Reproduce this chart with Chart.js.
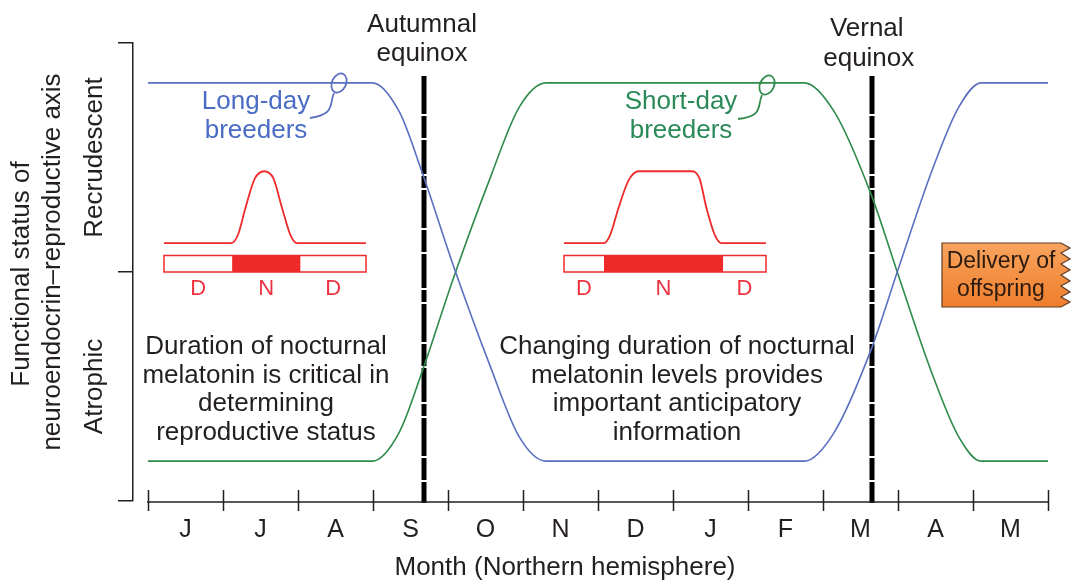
<!DOCTYPE html>
<html><head><meta charset="utf-8">
<script src="https://cdn.jsdelivr.net/npm/chart.js@4.4.1/dist/chart.umd.min.js"></script>
<style>html,body{margin:0;padding:0;background:#fff}#wrap{width:1073px;height:583px}</style>
</head><body><div id="wrap"><canvas id="c" width="1073" height="583"></canvas></div>
<script>
// ---------- data ----------
const months = ['J','J','A','S','O','N','D','J','F','M','A','M'];
const monthBoundaries = [0,1,2,3,4,5,6,7,8,9,10,11,12];
const curveMonths   = [0, 2.99, 3.35, 3.65, 4.08, 4.55, 4.95, 5.31, 8.75, 9.15, 9.64, 9.99, 10.45, 10.81, 11.11, 12];
const longDayStatus = [0.913, 0.913, 0.85, 0.72, 0.51, 0.30, 0.14, 0.087, 0.087, 0.15, 0.33, 0.50, 0.72, 0.86, 0.913, 0.913];
const shortDayStatus= [0.087, 0.087, 0.15, 0.28, 0.49, 0.70, 0.86, 0.913, 0.913, 0.85, 0.67, 0.50, 0.28, 0.14, 0.087, 0.087];
const statusTicks = [0, 0.5, 1];
const statusLabels = ['Atrophic', 'Recrudescent'];
const equinoxMonths = [3.68, 9.65];
const equinoxLabels = [['Autumnal','equinox'], ['Vernal','equinox']];
// melatonin profiles (hour of the 24 h day, relative level)
const melHoursLong  = [0, 8, 8.8, 9.7, 10.8, 11.9, 13.0, 14.0, 15.0, 15.8, 24];
const melLevelLong  = [0, 0, 0.12, 0.5, 0.9, 1, 0.9, 0.5, 0.12, 0, 0];
const nightLong = [8.1, 16.2];
const melHoursShort = [0, 4.75, 5.5, 6.5, 7.7, 8.9, 12, 15.1, 16.1, 16.9, 17.9, 18.7, 24];
const melLevelShort = [0, 0, 0.12, 0.5, 0.88, 1, 1, 1, 0.9, 0.5, 0.12, 0, 0];
const nightShort = [4.75, 18.9];
const xTitle = 'Month (Northern hemisphere)';
const yTitle = ['Functional status of', 'neuroendocrin\u2013reproductive axis'];

// ---------- styles / placement ----------
const FONT = '"Liberation Sans", Arial, Helvetica, sans-serif';
const INK = '#231f20';
const BLUE = '#5a6fc0';
const GREEN = '#2f8a4c';
const RED = '#ee2a2a';
const FS = 26;
Chart.defaults.font.family = FONT;
const insetLeft  = {x0: 0.213, x1: 2.907};
const insetRight = {x0: 5.547, x1: 8.24};
const insetBase = 0.563, insetAmp = 0.157;

function insetPoints(inset, hours, levels){
  return hours.map((h,i)=>({x: inset.x0 + h/24*(inset.x1-inset.x0), y: insetBase + levels[i]*insetAmp}));
}
const lineDS = (data, color, w) => ({data, borderColor: color, borderWidth: w, pointRadius: 0, fill: false, cubicInterpolationMode: 'monotone'});

const deco = {
  id: 'deco',
  beforeDatasetsDraw(chart){
    const {ctx, scales:{x, y}} = chart;
    ctx.save();
    ctx.strokeStyle = '#000'; ctx.lineWidth = 5;
    ctx.setLineDash([38,2,22,2,34,2,12,2]);
    equinoxMonths.forEach(m=>{
      const px = Math.round(x.getPixelForValue(m));
      ctx.beginPath(); ctx.moveTo(px, 76); ctx.lineTo(px, y.bottom + 2); ctx.stroke();
    });
    ctx.restore();
  },
  afterDatasetsDraw(chart){
    const {ctx, scales:{x, y}} = chart;
    ctx.save();
    // x axis line and tick marks
    ctx.strokeStyle = INK; ctx.lineWidth = 1.5;
    const ay = y.bottom + 1;
    ctx.beginPath();
    ctx.moveTo(x.getPixelForValue(0) - 1, ay); ctx.lineTo(x.getPixelForValue(12) + 1, ay);
    monthBoundaries.forEach(m=>{ const px = Math.round(x.getPixelForValue(m)) + 0.5; ctx.moveTo(px, ay - 12); ctx.lineTo(px, ay + 9); });
    ctx.stroke();

    const text = (s, tx, ty, color, size, rot) => {
      ctx.save(); ctx.translate(tx, ty); if (rot) ctx.rotate(rot);
      ctx.fillStyle = color; ctx.font = size + 'px ' + FONT; ctx.textAlign = 'center'; ctx.textBaseline = 'middle';
      ctx.fillText(s, 0, 0); ctx.restore();
    };
    // axis titles
    text(xTitle, 565, 568, INK, FS);
    text(yTitle[0], 22, 274, INK, FS, -Math.PI/2);
    text(yTitle[1], 53, 262, INK, FS, -Math.PI/2);
    // status labels
    text(statusLabels[1], 95, (y.getPixelForValue(1) + y.getPixelForValue(0.5))/2, INK, FS, -Math.PI/2);
    text(statusLabels[0], 95, (y.getPixelForValue(0.5) + y.getPixelForValue(0))/2, INK, FS, -Math.PI/2);

    // equinox labels
    const eqY = [[25,54],[29,59]];
    equinoxMonths.forEach((m,i)=>{
      const px = x.getPixelForValue(m);
      text(equinoxLabels[i][0], px - 2 + (i?-3:0), eqY[i][0], INK, FS);
      text(equinoxLabels[i][1], px - 2 + (i?-1:0), eqY[i][1], INK, FS);
    });

    // inset bars
    [[insetLeft, nightLong],[insetRight, nightShort]].forEach(([ins, night])=>{
      const l = x.getPixelForValue(ins.x0), r = x.getPixelForValue(ins.x1);
      const top = 255.5, h = 16.5;
      const nl = x.getPixelForValue(ins.x0 + night[0]/24*(ins.x1-ins.x0));
      const nr = x.getPixelForValue(ins.x0 + night[1]/24*(ins.x1-ins.x0));
      ctx.fillStyle = RED; ctx.fillRect(nl, top, nr - nl, h);
      ctx.strokeStyle = RED; ctx.lineWidth = 1.5; ctx.strokeRect(l, top, r - l, h);
      const dc = '#ee3340';
      text('D', (l + nl)/2, 289, dc, 22);
      text('N', (nl + nr)/2, 289, dc, 22);
      text('D', (nr + r)/2, 289, dc, 22);
    });

    // series labels
    text('Long-day', 256, 102, '#4a6cc4', FS);
    text('breeders', 256, 131, '#4a6cc4', FS);
    text('Short-day', 681, 102, '#2b8a58', FS);
    text('breeders', 681, 131, '#2b8a58', FS);

    // loops
    const loop = (cx, cy, color, pts) => {
      ctx.strokeStyle = color; ctx.lineWidth = 1.8;
      ctx.beginPath(); ctx.ellipse(cx, cy, 7, 10, 0.45, 0, Math.PI*2); ctx.stroke();
      ctx.beginPath(); ctx.moveTo(pts[0], pts[1]);
      ctx.bezierCurveTo(pts[2], pts[3], pts[4], pts[5], pts[6], pts[7]); ctx.stroke();
    };
    loop(339, 83, BLUE, [334, 93, 329, 104, 336, 114, 310, 118]);
    loop(767, 85, GREEN, [762, 95, 757, 106, 764, 116, 738, 119]);

    // paragraphs
    const para1 = ['Duration of nocturnal','melatonin is critical in','determining','reproductive status'];
    const para2 = ['Changing duration of nocturnal','melatonin levels provides','important anticipatory','information'];
    const ly = [347, 375.5, 404, 432.5];
    para1.forEach((s,i)=>text(s, 266, ly[i], INK, FS));
    para2.forEach((s,i)=>text(s, 677, ly[i], INK, FS));

    // delivery box
    ctx.beginPath();
    ctx.moveTo(942, 243); ctx.lineTo(1061, 243);
    const zz = [[1070,248],[1061,253],[1070,259],[1061,264],[1070,270],[1061,275],[1070,281],[1061,286],[1070,292],[1061,297],[1070,302],[1061,307]];
    zz.forEach(p=>ctx.lineTo(p[0], p[1]));
    ctx.lineTo(942, 307); ctx.closePath();
    const g = ctx.createLinearGradient(0, 243, 0, 307);
    g.addColorStop(0, '#f8a45e'); g.addColorStop(1, '#ef7e2c');
    ctx.fillStyle = g; ctx.fill();
    ctx.strokeStyle = '#5e3a20'; ctx.lineWidth = 1.2; ctx.stroke();
    text('Delivery of', 1001, 262, '#2a1a10', 23);
    text('offspring', 1001, 290, '#2a1a10', 23);
    ctx.restore();
  }
};

new Chart(document.getElementById('c'), {
  type: 'line',
  data: {
    datasets: [
      lineDS(curveMonths.map((m,i)=>({x:m, y:longDayStatus[i]})), BLUE, 1.6),
      lineDS(curveMonths.map((m,i)=>({x:m, y:shortDayStatus[i]})), GREEN, 1.6),
      lineDS(insetPoints(insetLeft, melHoursLong, melLevelLong), RED, 1.8),
      lineDS(insetPoints(insetRight, melHoursShort, melLevelShort), RED, 1.8)
    ]
  },
  options: {
    responsive: false, animation: false, devicePixelRatio: 1,
    layout: {padding: {top: 43, right: 25, bottom: 0, left: 0}},
    plugins: {legend: {display: false}, tooltip: {enabled: false}},
    scales: {
      x: {
        type: 'linear', min: -0.2, max: 12,
        afterBuildTicks: s => { s.ticks = months.map((m,i)=>({value: i + 0.5})); },
        afterFit: s => { s.height = 82; },
        ticks: {callback: (v,i)=>months[i], color: INK, font: {size: 25}, padding: 14, maxRotation: 0, autoSkip: false},
        grid: {display: false, drawTicks: false},
        border: {display: false},
        title: {display: false}
      },
      y: {
        min: 0, max: 1,
        afterBuildTicks: s => { s.ticks = statusTicks.map(v=>({value: v})); },
        afterFit: s => { s.width = 133; },
        ticks: {display: false},
        grid: {drawOnChartArea: false, drawTicks: true, tickLength: 15, color: INK, lineWidth: 1.5},
        border: {display: true, color: INK, width: 1.5},
        title: {display: false}
      }
    }
  },
  plugins: [deco]
});
</script>
</body></html>
